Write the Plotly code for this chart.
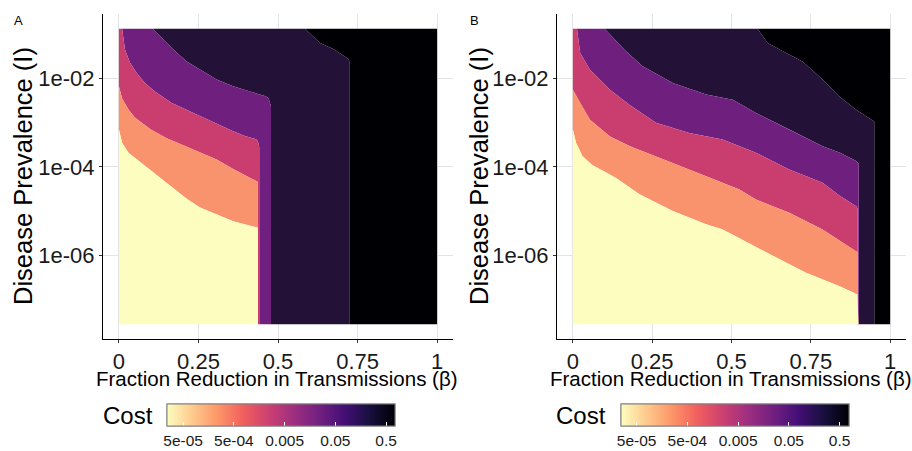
import plotly.graph_objects as go
import numpy as np

W, H = 912, 451
FONT = "Liberation Sans, Arial, Helvetica, sans-serif"

# ---------------- data ----------------
# extent of the computed grid
BETA_MIN, BETA_MAX = 0.0, 1.0
LOG_I_TOP = -0.869      # log10 of the largest prevalence on the grid
LOG_I_BOTTOM = -7.566   # log10 of the smallest prevalence on the grid
T, B_ = LOG_I_TOP, LOG_I_BOTTOM

# Panel A: cost-band boundaries (beta, log10 I)
a_b5_beta = [0.585, 0.632, 0.674, 0.721, 0.724, 0.724]
a_b5_logI = [T, -1.19, -1.33, -1.55, -1.60, B_]
a_b4_beta = [0.106, 0.129, 0.171, 0.213, 0.255, 0.307, 0.359, 0.412, 0.461, 0.470, 0.478, 0.478]
a_b4_logI = [T, -1.04, -1.34, -1.61, -1.80, -2.02, -2.17, -2.29, -2.40, -2.44, -2.63, B_]
a_b3_beta = [0.010, 0.019, 0.035, 0.056, 0.082, 0.113, 0.166, 0.255, 0.359, 0.396, 0.433, 0.438, 0.441, 0.441]
a_b3_logI = [T, -1.34, -1.64, -1.87, -2.10, -2.29, -2.55, -2.85, -3.19, -3.30, -3.38, -3.45, -3.55, B_]
a_b2_beta = [0.0, 0.010, 0.030, 0.050, 0.100, 0.150, 0.200, 0.250, 0.307, 0.359, 0.400, 0.437, 0.437]
a_b2_logI = [-2.17, -2.45, -2.70, -2.88, -3.15, -3.35, -3.50, -3.65, -3.83, -4.05, -4.20, -4.34, B_]
a_b1_beta = [0.0, 0.010, 0.030, 0.060, 0.097, 0.150, 0.213, 0.255, 0.307, 0.359, 0.437, 0.437]
a_b1_logI = [-3.15, -3.45, -3.68, -3.85, -4.06, -4.36, -4.72, -4.92, -5.08, -5.23, -5.38, B_]

# Panel B: cost-band boundaries (beta, log10 I)
b_b5_beta = [0.582, 0.614, 0.672, 0.724, 0.787, 0.839, 0.892, 0.950, 0.950]
b_b5_logI = [T, -1.19, -1.42, -1.61, -2.02, -2.40, -2.70, -2.97, B_]
b_b4_beta = [0.100, 0.130, 0.165, 0.220, 0.315, 0.420, 0.504, 0.577, 0.682, 0.787, 0.842, 0.894, 0.901, 0.901]
b_b4_logI = [T, -1.10, -1.36, -1.72, -2.10, -2.36, -2.475, -2.78, -3.15, -3.53, -3.68, -3.87, -3.92, B_]
b_b3_beta = [0.013, 0.023, 0.054, 0.117, 0.180, 0.262, 0.367, 0.472, 0.577, 0.682, 0.787, 0.842, 0.894, 0.898, 0.898]
b_b3_logI = [T, -1.42, -1.80, -2.25, -2.60, -3.00, -3.23, -3.38, -3.68, -4.06, -4.36, -4.66, -4.90, -4.95, B_]
b_b2_beta = [0.0, 0.023, 0.054, 0.117, 0.180, 0.315, 0.420, 0.525, 0.577, 0.682, 0.787, 0.892, 0.897, 0.897]
b_b2_logI = [-2.25, -2.55, -2.93, -3.31, -3.53, -3.91, -4.21, -4.51, -4.74, -5.04, -5.42, -5.91, -5.93, B_]
b_b1_beta = [0.0, 0.010, 0.030, 0.060, 0.136, 0.210, 0.315, 0.420, 0.472, 0.525, 0.630, 0.735, 0.839, 0.897, 0.900]
b_b1_logI = [-3.15, -3.45, -3.75, -3.95, -4.25, -4.62, -5.00, -5.30, -5.42, -5.62, -6.02, -6.40, -6.70, -6.89, B_]

# band colours (magma, high cost -> dark)
band_colors = ["#000004", "#231138", "#6f1f7e", "#c93e6e", "#f8936e", "#fcfdbf"]

# colour bar
cost_ticks = [5e-05, 5e-04, 5e-03, 5e-02, 0.5]
cost_tick_labels = ["5e-05", "5e-04", "0.005", "0.05", "0.5"]
cost_min, cost_max = 2.4e-05, 0.75

x_ticks = [0, 0.25, 0.5, 0.75, 1]
x_tick_labels = ["0", "0.25", "0.5", "0.75", "1"]
y_ticks = [1e-2, 1e-4, 1e-6]
y_tick_labels = ["1e-02", "1e-04", "1e-06"]

# ---------------- figure ----------------
fig = go.Figure()

right_edge = ([BETA_MAX, BETA_MAX], [LOG_I_TOP, LOG_I_BOTTOM])
bottom_left = ([BETA_MIN], [LOG_I_BOTTOM])


def between(outer, inner):
    """Region between an outer boundary and an inner one (non overlapping)."""
    xs = list(outer[0]) + list(inner[0])[::-1]
    ys = list(outer[1]) + list(inner[1])[::-1]
    if outer[1][0] == LOG_I_TOP and inner[1][0] != LOG_I_TOP and inner[0][0] == BETA_MIN:
        xs.append(BETA_MIN)
        ys.append(LOG_I_TOP)
    return xs, [10 ** v for v in ys]


panels = [
    ("x", "y", [(a_b5_beta, a_b5_logI), (a_b4_beta, a_b4_logI), (a_b3_beta, a_b3_logI),
                (a_b2_beta, a_b2_logI), (a_b1_beta, a_b1_logI)]),
    ("x2", "y2", [(b_b5_beta, b_b5_logI), (b_b4_beta, b_b4_logI), (b_b3_beta, b_b3_logI),
                  (b_b2_beta, b_b2_logI), (b_b1_beta, b_b1_logI)]),
]

for xa, ya, bounds in panels:
    chain = [right_edge] + bounds + [bottom_left]
    for i in range(len(chain) - 1):
        xs, ys = between(chain[i], chain[i + 1])
        fig.add_trace(go.Scatter(
            x=xs, y=ys, fill="toself", fillcolor=band_colors[i], mode="lines",
            line=dict(width=0, color=band_colors[i]), xaxis=xa, yaxis=ya,
            showlegend=False, hoverinfo="skip"))

# colour bars (dummy traces)
for k, (xa, ya) in enumerate([("x", "y"), ("x2", "y2")]):
    for j in range(2):
        ca = "coloraxis%d" % (2 * k + j + 1) if (2 * k + j) > 0 else "coloraxis"
        fig.add_trace(go.Scatter(
            x=[0.5], y=[1e-3], mode="markers", xaxis=xa, yaxis=ya,
            marker=dict(color=[np.log10(cost_ticks[2])], coloraxis=ca, size=1, opacity=0),
            showlegend=False, hoverinfo="skip"))


def cbar(cx, top_side):
    return dict(
        orientation="h", lenmode="pixels", len=228, thickness=22,
        x=cx / W, xanchor="center", y=1 - 404 / H, yanchor="top",
        xref="container", yref="container", xpad=0, ypad=0,
        outlinewidth=1, outlinecolor="#808080",
        tickmode="array", tickvals=[np.log10(v) for v in cost_ticks],
        ticktext=cost_tick_labels, ticks="inside", ticklen=4, tickwidth=1,
        tickcolor="white", showticklabels=not top_side,
        ticklabelposition="outside top" if top_side else "outside",
        tickfont=dict(size=15.5, color="#1a1a1a", family=FONT),
    )


ca_common = dict(colorscale="Magma", reversescale=True,
                 cmin=np.log10(cost_min), cmax=np.log10(cost_max))
cb_centers = [(167 + 395) / 2, (621 + 848) / 2]

axis_common = dict(showline=True, linecolor="black", linewidth=1, ticks="outside",
                   ticklen=3, tickcolor="#333333", showgrid=True, gridcolor="#e3e3e3",
                   gridwidth=1.3, zeroline=False, tickfont=dict(size=22, color="#1a1a1a", family=FONT))

y_dom = [1 - 339 / H, 1 - 14 / H]
y_range = [LOG_I_BOTTOM - 0.335, LOG_I_TOP + 0.335]

fig.update_layout(
    width=W, height=H, margin=dict(l=0, r=0, t=0, b=0, autoexpand=False),
    paper_bgcolor="white", plot_bgcolor="white",
    font=dict(family=FONT, color="black"),
    xaxis=dict(domain=[103 / W, 453 / W], range=[-0.05, 1.05], tickvals=x_ticks,
               ticktext=x_tick_labels, anchor="y", **axis_common),
    yaxis=dict(domain=y_dom, type="log", range=y_range, tickvals=y_ticks,
               ticktext=y_tick_labels, anchor="x", **axis_common),
    xaxis2=dict(domain=[557 / W, 906 / W], range=[-0.05, 1.05], tickvals=x_ticks,
                ticktext=x_tick_labels, anchor="y2", **axis_common),
    yaxis2=dict(domain=y_dom, type="log", range=y_range, tickvals=y_ticks,
                ticktext=y_tick_labels, anchor="x2", **axis_common),
    coloraxis=dict(colorbar=cbar(cb_centers[0], False), **ca_common),
    coloraxis2=dict(colorbar=cbar(cb_centers[0], True), **ca_common),
    coloraxis3=dict(colorbar=cbar(cb_centers[1], False), **ca_common),
    coloraxis4=dict(colorbar=cbar(cb_centers[1], True), **ca_common),
)

ann = []
for off, lab, xt_c, cost_r in [(0, "A", 277, 155), (456, "B", 731, 608)]:
    ann.append(dict(text=lab, x=(off + 12) / W, y=1 - 11 / H, xref="paper", yref="paper",
                    xanchor="left", yanchor="top", showarrow=False,
                    font=dict(size=13, family=FONT, color="black")))
    ann.append(dict(text="Disease Prevalence (I)", x=(off + 23) / W, y=1 - 176 / H,
                    xref="paper", yref="paper", xanchor="center", yanchor="middle",
                    textangle=-90, showarrow=False, font=dict(size=25.5, family=FONT, color="black")))
    ann.append(dict(text="Fraction Reduction in Transmissions (β)", x=xt_c / W, y=1 - 378 / H,
                    xref="paper", yref="paper", xanchor="center", yanchor="middle",
                    showarrow=False, font=dict(size=20.5, family=FONT, color="black")))
    ann.append(dict(text="Cost", x=cost_r / W, y=1 - 415 / H, xref="paper", yref="paper",
                    xanchor="right", yanchor="middle", showarrow=False,
                    font=dict(size=24, family=FONT, color="black")))
fig.update_layout(annotations=ann)

fig.write_html("out.html", config={"displayModeBar": False},
               post_script="document.body.style.margin='0px';document.body.style.padding='0px';")
